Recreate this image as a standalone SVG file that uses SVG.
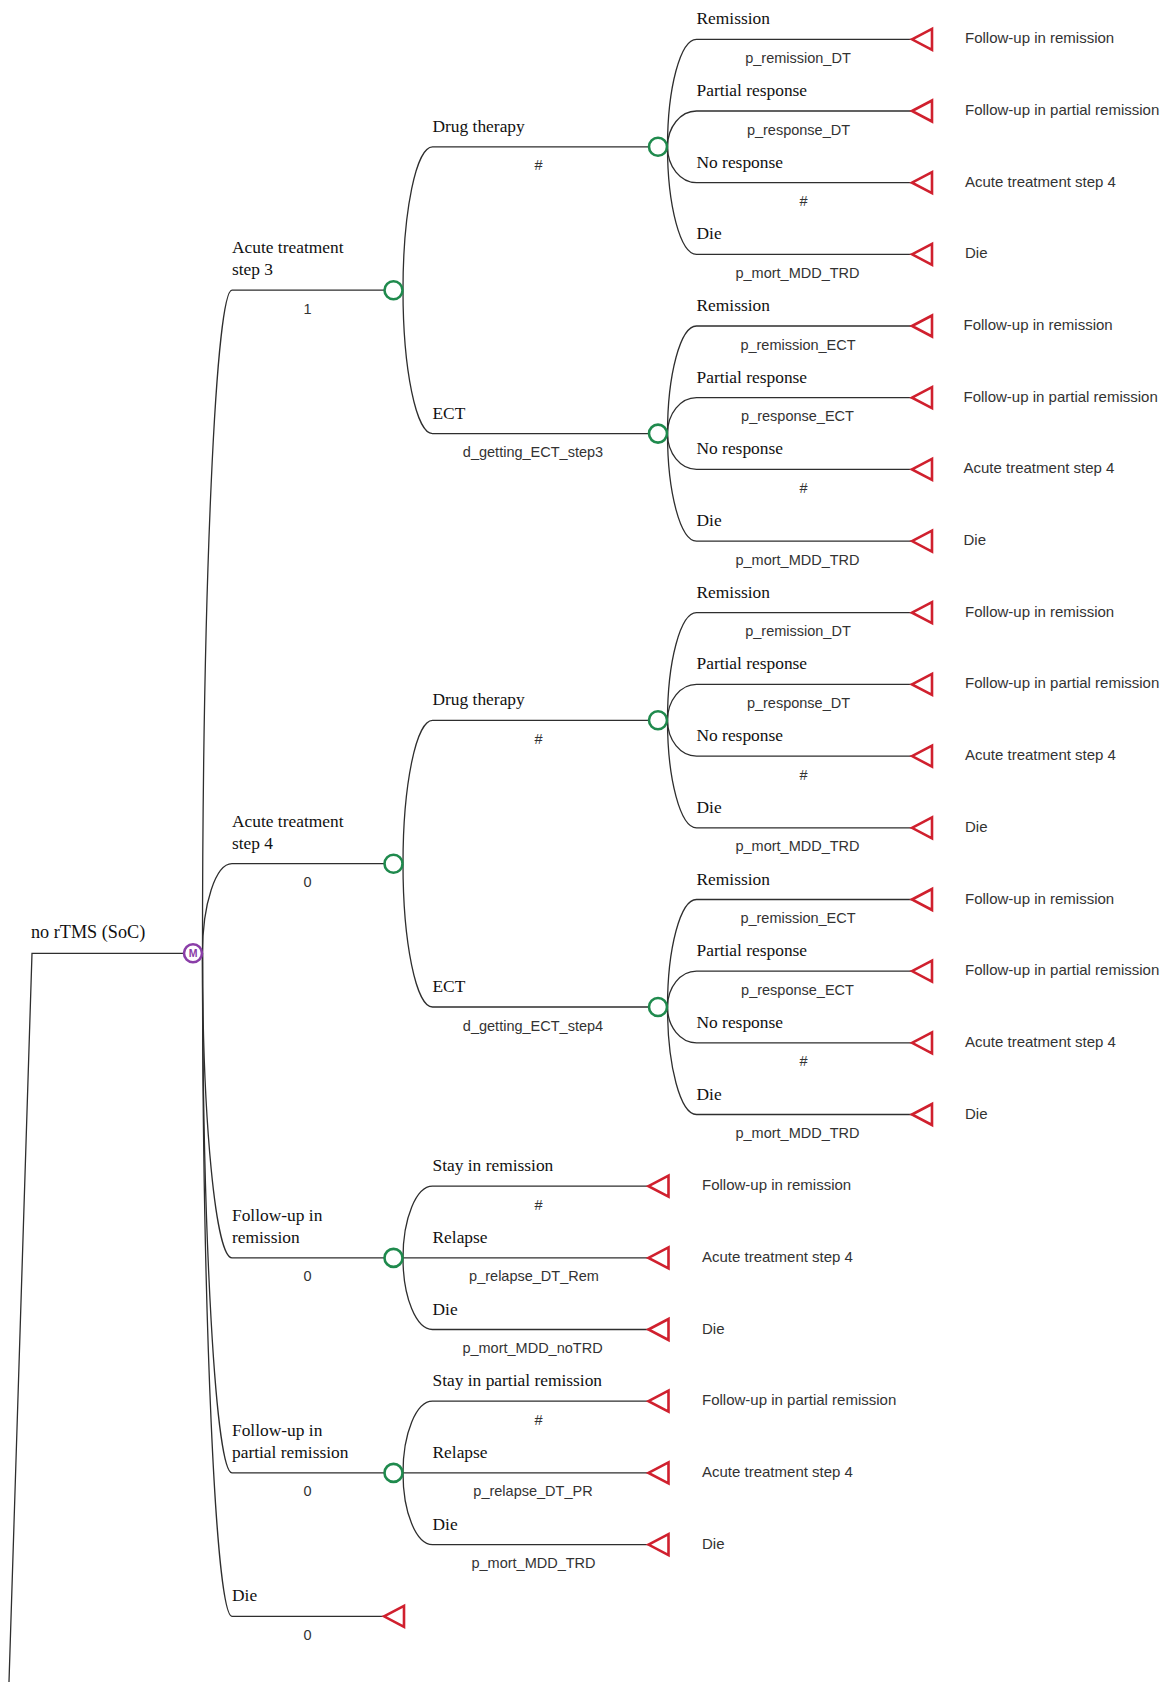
<svg xmlns="http://www.w3.org/2000/svg" xmlns:xlink="http://www.w3.org/1999/xlink" width="1168" height="1682" viewBox="0 0 1168 1682">
<style>
.ln{fill:none;stroke:#2e2e2e;stroke-width:1.3}
.ch{fill:#fff;stroke:#1f8a4d;stroke-width:2.6}
.mk{fill:#fff;stroke:#8a3ea8;stroke-width:2.6}
.mkt{font-family:"Liberation Sans",Arial,sans-serif;font-size:10.5px;font-weight:bold;fill:#8a3ea8;text-anchor:middle}
.tm{fill:#fff;stroke:#d0202e;stroke-width:2.6;stroke-linejoin:miter}
.lb{font-family:"Liberation Serif","Times New Roman",serif;font-size:17.4px;fill:#111}
.rt{font-size:18.2px}
.pr{font-family:"Liberation Sans",Arial,sans-serif;font-size:14.5px;fill:#333;text-anchor:middle}
.tl{font-family:"Liberation Sans",Arial,sans-serif;font-size:15px;fill:#333}
</style>
<defs>
<path id="tri" class="tm" d="M0 0 L20 -10.5 L20 10.5 Z"/>
</defs>
<rect width="1168" height="1682" fill="#fff"/>
<g id="connectors">
<path class="ln" d="M9 1682 L32 953.3 L184 953.3"/>
<path class="ln" d="M202.5 953.3 A29.5 663.1 0 0 1 232 290.2 L384 290.2"/>
<path class="ln" d="M202.5 953.3 A29.5 89.6 0 0 1 232 863.7 L384 863.7"/>
<path class="ln" d="M202.5 953.3 A29.5 304.6 0 0 0 232 1257.9 L384 1257.9"/>
<path class="ln" d="M202.5 953.3 A29.5 519.6 0 0 0 232 1472.9 L384 1472.9"/>
<path class="ln" d="M202.5 953.3 A29.5 663 0 0 0 232 1616.3 L384 1616.3"/>
<path class="ln" d="M403 290.2 A29.5 143.4 0 0 1 432.5 146.8 L649 146.8"/>
<path class="ln" d="M403 290.2 A29.5 143.4 0 0 0 432.5 433.6 L649 433.6"/>
<path class="ln" d="M403 863.7 A29.5 143.4 0 0 1 432.5 720.3 L649 720.3"/>
<path class="ln" d="M403 863.7 A29.5 143.3 0 0 0 432.5 1007 L649 1007"/>
<path class="ln" d="M403 1257.9 A29.5 71.7 0 0 1 432.5 1186.2 L648.5 1186.2"/>
<path class="ln" d="M403 1257.9 L648.5 1257.9"/>
<path class="ln" d="M403 1257.9 A29.5 71.6 0 0 0 432.5 1329.5 L648.5 1329.5"/>
<path class="ln" d="M403 1472.9 A29.5 71.7 0 0 1 432.5 1401.2 L648.5 1401.2"/>
<path class="ln" d="M403 1472.9 L648.5 1472.9"/>
<path class="ln" d="M403 1472.9 A29.5 71.7 0 0 0 432.5 1544.6 L648.5 1544.6"/>
<path class="ln" d="M667.5 146.8 A29 107.5 0 0 1 696.5 39.3 L912 39.3"/>
<path class="ln" d="M667.5 146.8 A29 35.8 0 0 1 696.5 111 L912 111"/>
<path class="ln" d="M667.5 146.8 A29 35.9 0 0 0 696.5 182.7 L912 182.7"/>
<path class="ln" d="M667.5 146.8 A29 107.5 0 0 0 696.5 254.3 L912 254.3"/>
<path class="ln" d="M667.5 433.6 A29 107.6 0 0 1 696.5 326 L912 326"/>
<path class="ln" d="M667.5 433.6 A29 35.9 0 0 1 696.5 397.7 L912 397.7"/>
<path class="ln" d="M667.5 433.6 A29 35.8 0 0 0 696.5 469.4 L912 469.4"/>
<path class="ln" d="M667.5 433.6 A29 107.5 0 0 0 696.5 541.1 L912 541.1"/>
<path class="ln" d="M667.5 720.3 A29 107.6 0 0 1 696.5 612.7 L912 612.7"/>
<path class="ln" d="M667.5 720.3 A29 35.9 0 0 1 696.5 684.4 L912 684.4"/>
<path class="ln" d="M667.5 720.3 A29 35.8 0 0 0 696.5 756.1 L912 756.1"/>
<path class="ln" d="M667.5 720.3 A29 107.5 0 0 0 696.5 827.8 L912 827.8"/>
<path class="ln" d="M667.5 1007 A29 107.5 0 0 1 696.5 899.5 L912 899.5"/>
<path class="ln" d="M667.5 1007 A29 35.9 0 0 1 696.5 971.1 L912 971.1"/>
<path class="ln" d="M667.5 1007 A29 35.8 0 0 0 696.5 1042.8 L912 1042.8"/>
<path class="ln" d="M667.5 1007 A29 107.5 0 0 0 696.5 1114.5 L912 1114.5"/>
</g>

<g id="node-root">
<text class="lb rt" x="31" y="938.3">no rTMS (SoC)</text>
</g>
<g id="node-markov">
<circle class="mk" cx="193" cy="953.3" r="9"/>
<text class="mkt" x="193" y="957.1">M</text>
</g>

<g id="node-step3">
<text class="lb" x="232" y="253.2">Acute treatment</text>
<text class="lb" x="232" y="275.2">step 3</text>
<text class="pr" x="307.5" y="313.7">1</text>
<circle class="ch" cx="393.5" cy="290.2" r="9"/>
</g>
<g id="node-step4">
<text class="lb" x="232" y="826.7">Acute treatment</text>
<text class="lb" x="232" y="848.7">step 4</text>
<text class="pr" x="307.5" y="887.2">0</text>
<circle class="ch" cx="393.5" cy="863.7" r="9"/>
</g>
<g id="node-fu-rem">
<text class="lb" x="232" y="1220.9">Follow-up in</text>
<text class="lb" x="232" y="1242.9">remission</text>
<text class="pr" x="307.5" y="1281.4">0</text>
<circle class="ch" cx="393.5" cy="1257.9" r="9"/>
</g>
<g id="node-fu-pr">
<text class="lb" x="232" y="1435.9">Follow-up in</text>
<text class="lb" x="232" y="1457.9">partial remission</text>
<text class="pr" x="307.5" y="1496.4">0</text>
<circle class="ch" cx="393.5" cy="1472.9" r="9"/>
</g>
<g id="node-die">
<text class="lb" x="232" y="1601.3">Die</text>
<text class="pr" x="307.5" y="1639.8">0</text>
<use xlink:href="#tri" x="384" y="1616.3"/>
</g>

<g id="node-s3-dt">
<text class="lb" x="432.5" y="131.8">Drug therapy</text>
<text class="pr" x="538.5" y="170.3">#</text>
<circle class="ch" cx="658" cy="146.8" r="9"/>
</g>
<g id="node-s3-ect">
<text class="lb" x="432.5" y="418.6">ECT</text>
<text class="pr" x="533" y="457.1">d_getting_ECT_step3</text>
<circle class="ch" cx="658" cy="433.6" r="9"/>
</g>
<g id="node-s4-dt">
<text class="lb" x="432.5" y="705.3">Drug therapy</text>
<text class="pr" x="538.5" y="743.8">#</text>
<circle class="ch" cx="658" cy="720.3" r="9"/>
</g>
<g id="node-s4-ect">
<text class="lb" x="432.5" y="992">ECT</text>
<text class="pr" x="533" y="1030.5">d_getting_ECT_step4</text>
<circle class="ch" cx="658" cy="1007" r="9"/>
</g>

<g id="node-fr-stay">
<text class="lb" x="432.5" y="1171.2">Stay in remission</text>
<text class="pr" x="538.5" y="1209.7">#</text>
<use xlink:href="#tri" x="648.5" y="1186.2"/>
<text class="tl" x="702" y="1190.2">Follow-up in remission</text>
</g>
<g id="node-fr-relapse">
<text class="lb" x="432.5" y="1242.9">Relapse</text>
<text class="pr" x="534" y="1281.4">p_relapse_DT_Rem</text>
<use xlink:href="#tri" x="648.5" y="1257.9"/>
<text class="tl" x="702" y="1261.9">Acute treatment step 4</text>
</g>
<g id="node-fr-die">
<text class="lb" x="432.5" y="1314.5">Die</text>
<text class="pr" x="532.5" y="1353">p_mort_MDD_noTRD</text>
<use xlink:href="#tri" x="648.5" y="1329.5"/>
<text class="tl" x="702" y="1333.5">Die</text>
</g>
<g id="node-fp-stay">
<text class="lb" x="432.5" y="1386.2">Stay in partial remission</text>
<text class="pr" x="538.5" y="1424.7">#</text>
<use xlink:href="#tri" x="648.5" y="1401.2"/>
<text class="tl" x="702" y="1405.2">Follow-up in partial remission</text>
</g>
<g id="node-fp-relapse">
<text class="lb" x="432.5" y="1457.9">Relapse</text>
<text class="pr" x="533" y="1496.4">p_relapse_DT_PR</text>
<use xlink:href="#tri" x="648.5" y="1472.9"/>
<text class="tl" x="702" y="1476.9">Acute treatment step 4</text>
</g>
<g id="node-fp-die">
<text class="lb" x="432.5" y="1529.6">Die</text>
<text class="pr" x="533.5" y="1568.1">p_mort_MDD_TRD</text>
<use xlink:href="#tri" x="648.5" y="1544.6"/>
<text class="tl" x="702" y="1548.6">Die</text>
</g>

<g id="node-s3-dt-rem">
<text class="lb" x="696.5" y="24.3">Remission</text>
<text class="pr" x="798" y="62.8">p_remission_DT</text>
<use xlink:href="#tri" x="912" y="39.3"/>
<text class="tl" x="965" y="43.3">Follow-up in remission</text>
</g>
<g id="node-s3-dt-pr">
<text class="lb" x="696.5" y="96">Partial response</text>
<text class="pr" x="798.5" y="134.5">p_response_DT</text>
<use xlink:href="#tri" x="912" y="111"/>
<text class="tl" x="965" y="115">Follow-up in partial remission</text>
</g>
<g id="node-s3-dt-nr">
<text class="lb" x="696.5" y="167.7">No response</text>
<text class="pr" x="803.5" y="206.2">#</text>
<use xlink:href="#tri" x="912" y="182.7"/>
<text class="tl" x="965" y="186.7">Acute treatment step 4</text>
</g>
<g id="node-s3-dt-die">
<text class="lb" x="696.5" y="239.3">Die</text>
<text class="pr" x="797.5" y="277.8">p_mort_MDD_TRD</text>
<use xlink:href="#tri" x="912" y="254.3"/>
<text class="tl" x="965" y="258.3">Die</text>
</g>

<g id="node-s3-ect-rem">
<text class="lb" x="696.5" y="311">Remission</text>
<text class="pr" x="798" y="349.5">p_remission_ECT</text>
<use xlink:href="#tri" x="912" y="326"/>
<text class="tl" x="963.5" y="330">Follow-up in remission</text>
</g>
<g id="node-s3-ect-pr">
<text class="lb" x="696.5" y="382.7">Partial response</text>
<text class="pr" x="797.5" y="421.2">p_response_ECT</text>
<use xlink:href="#tri" x="912" y="397.7"/>
<text class="tl" x="963.5" y="401.7">Follow-up in partial remission</text>
</g>
<g id="node-s3-ect-nr">
<text class="lb" x="696.5" y="454.4">No response</text>
<text class="pr" x="803.5" y="492.9">#</text>
<use xlink:href="#tri" x="912" y="469.4"/>
<text class="tl" x="963.5" y="473.4">Acute treatment step 4</text>
</g>
<g id="node-s3-ect-die">
<text class="lb" x="696.5" y="526.1">Die</text>
<text class="pr" x="797.5" y="564.6">p_mort_MDD_TRD</text>
<use xlink:href="#tri" x="912" y="541.1"/>
<text class="tl" x="963.5" y="545.1">Die</text>
</g>

<g id="node-s4-dt-rem">
<text class="lb" x="696.5" y="597.7">Remission</text>
<text class="pr" x="798" y="636.2">p_remission_DT</text>
<use xlink:href="#tri" x="912" y="612.7"/>
<text class="tl" x="965" y="616.7">Follow-up in remission</text>
</g>
<g id="node-s4-dt-pr">
<text class="lb" x="696.5" y="669.4">Partial response</text>
<text class="pr" x="798.5" y="707.9">p_response_DT</text>
<use xlink:href="#tri" x="912" y="684.4"/>
<text class="tl" x="965" y="688.4">Follow-up in partial remission</text>
</g>
<g id="node-s4-dt-nr">
<text class="lb" x="696.5" y="741.1">No response</text>
<text class="pr" x="803.5" y="779.6">#</text>
<use xlink:href="#tri" x="912" y="756.1"/>
<text class="tl" x="965" y="760.1">Acute treatment step 4</text>
</g>
<g id="node-s4-dt-die">
<text class="lb" x="696.5" y="812.8">Die</text>
<text class="pr" x="797.5" y="851.3">p_mort_MDD_TRD</text>
<use xlink:href="#tri" x="912" y="827.8"/>
<text class="tl" x="965" y="831.8">Die</text>
</g>

<g id="node-s4-ect-rem">
<text class="lb" x="696.5" y="884.5">Remission</text>
<text class="pr" x="798" y="923">p_remission_ECT</text>
<use xlink:href="#tri" x="912" y="899.5"/>
<text class="tl" x="965" y="903.5">Follow-up in remission</text>
</g>
<g id="node-s4-ect-pr">
<text class="lb" x="696.5" y="956.1">Partial response</text>
<text class="pr" x="797.5" y="994.6">p_response_ECT</text>
<use xlink:href="#tri" x="912" y="971.1"/>
<text class="tl" x="965" y="975.1">Follow-up in partial remission</text>
</g>
<g id="node-s4-ect-nr">
<text class="lb" x="696.5" y="1027.8">No response</text>
<text class="pr" x="803.5" y="1066.3">#</text>
<use xlink:href="#tri" x="912" y="1042.8"/>
<text class="tl" x="965" y="1046.8">Acute treatment step 4</text>
</g>
<g id="node-s4-ect-die">
<text class="lb" x="696.5" y="1099.5">Die</text>
<text class="pr" x="797.5" y="1138">p_mort_MDD_TRD</text>
<use xlink:href="#tri" x="912" y="1114.5"/>
<text class="tl" x="965" y="1118.5">Die</text>
</g>
</svg>
